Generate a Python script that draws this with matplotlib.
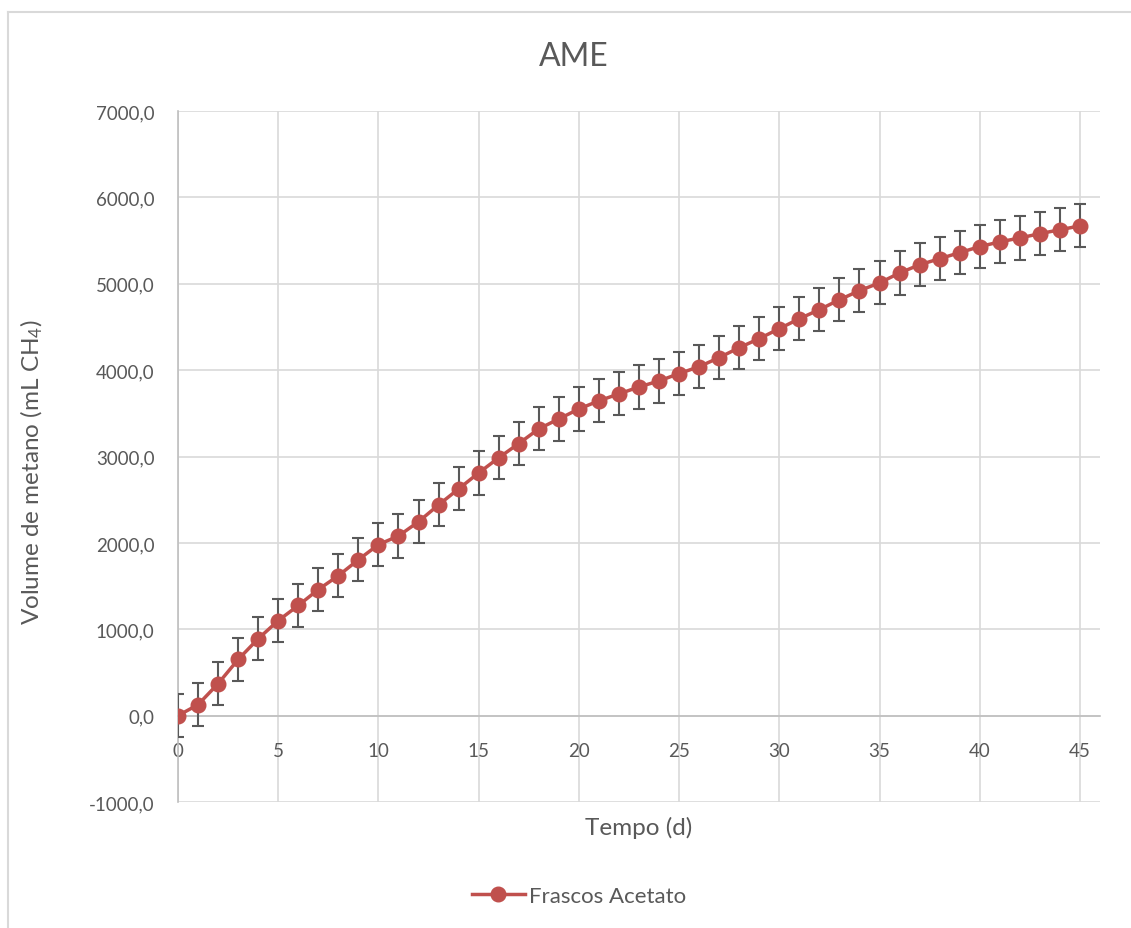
import matplotlib
matplotlib.use("Agg")
import matplotlib.pyplot as plt
from matplotlib.lines import Line2D
from matplotlib.ticker import FuncFormatter, MultipleLocator

# Accumulated methane volume per day
tempo = list(range(0, 46))
volume = [0, 127, 370, 650, 890, 1100, 1275, 1460, 1620, 1805,
          1980, 2080, 2245, 2440, 2625, 2810, 2985, 3150, 3320, 3435,
          3550, 3645, 3725, 3805, 3875, 3960, 4040, 4145, 4260, 4365,
          4480, 4595, 4700, 4815, 4920, 5010, 5125, 5220, 5290, 5360,
          5430, 5485, 5530, 5580, 5625, 5670]
erro = [250] * len(tempo)

serie = "Frascos Acetato"
titulo = "AME"

TEXT = "#595959"
GRID = "#D9D9D9"
RED = "#C0504D"

plt.rcParams['font.family'] = ['Lato', 'DejaVu Sans']
plt.rcParams['mathtext.default'] = 'regular'

fig = plt.figure(figsize=(11.31, 9.29), dpi=100)
ax = fig.add_axes([178 / 1131, 1 - 803 / 929, (1100 - 178) / 1131, (803 - 112) / 929])

ax.errorbar(tempo, volume, yerr=erro, fmt='none', ecolor=TEXT, elinewidth=1.5,
            capsize=4, capthick=1.5, zorder=3)
ax.plot(tempo, volume, color=RED, linewidth=2.5, marker='o', markersize=10.5,
        markeredgecolor=RED, zorder=4)

ax.set_xlim(0, 46)
ax.set_ylim(-1000, 7000)
ax.set_xticks(range(0, 46, 5))
ax.yaxis.set_major_locator(MultipleLocator(1000))
ax.yaxis.set_major_formatter(FuncFormatter(lambda v, p: f"{v:.1f}".replace('.', ',')))

ax.grid(True, color=GRID, linewidth=1.2, zorder=0)
ax.set_axisbelow(True)

for s in ['top', 'right']:
    ax.spines[s].set_visible(False)
ax.spines['bottom'].set_position(('data', 0))
for s in ['bottom', 'left']:
    ax.spines[s].set_color('#BFBFBF')
    ax.spines[s].set_linewidth(1.2)

ax.tick_params(axis='both', length=0, labelsize=13.5, colors=TEXT)
ax.tick_params(axis='y', pad=17)
ax.tick_params(axis='x', pad=19)

fig.text(639 / 1131, 1 - 828 / 929, "Tempo (d)", ha='center', va='center',
         fontsize=17.5, color=TEXT)
fig.text(32 / 1131, 1 - 472 / 929, r"Volume de metano (mL CH$_4$)", ha='center',
         va='center', rotation=90, fontsize=17.5, color=TEXT)
fig.text(574 / 1131, 1 - 57 / 929, titulo, ha='center', va='center',
         fontsize=23, color=TEXT)

handle = Line2D([], [], color=RED, linewidth=2.5, marker='o', markersize=10.5)
fig.legend([handle], [serie], loc='center', bbox_to_anchor=(579 / 1131, 1 - 897 / 929),
           frameon=False, fontsize=16, labelcolor=TEXT, handlelength=2.4,
           handletextpad=0.2)

# outer frame of the chart area
fig.add_artist(Line2D([7.5 / 1131, 1], [1 - 13 / 929, 1 - 13 / 929], color=GRID,
                      linewidth=1.5, transform=fig.transFigure))
fig.add_artist(Line2D([7.5 / 1131, 7.5 / 1131], [0, 1 - 13 / 929], color=GRID,
                      linewidth=1.5, transform=fig.transFigure))

fig.savefig("out.png", dpi=100)
